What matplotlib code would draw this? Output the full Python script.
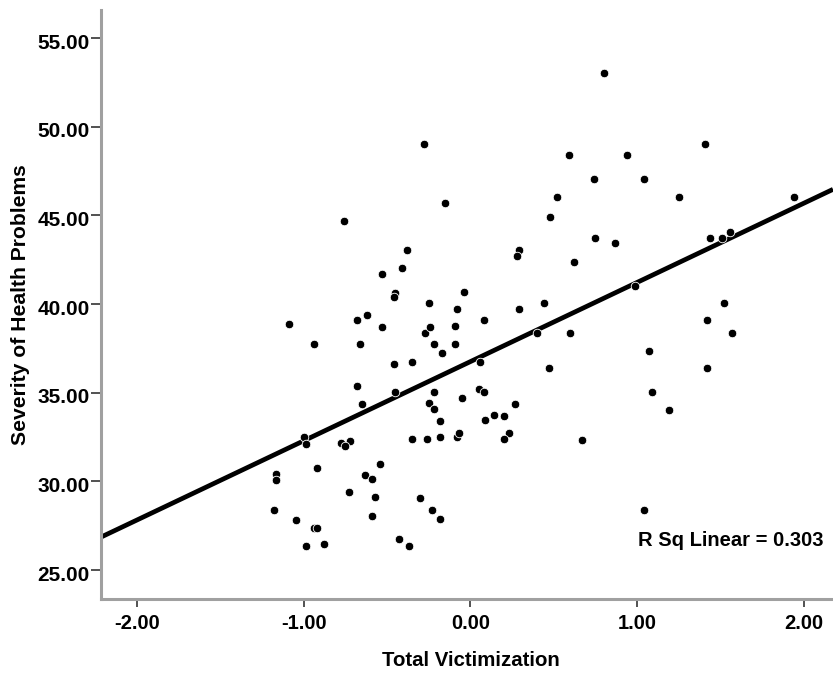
import numpy as np
import matplotlib
matplotlib.use("Agg")
import matplotlib.pyplot as plt
from matplotlib.transforms import ScaledTranslation

plt.rcParams['font.family'] = ['Liberation Sans', 'DejaVu Sans']
plt.rcParams['font.weight'] = 'bold'

# --- data ---
victimization = [
    -0.28, -0.15, -0.76, 0.48, -0.38, 0.29, 0.28, -0.41, -0.53, -0.45,
    -0.46, -0.04, -0.25, -0.08, 0.29, 0.44, -0.62, -0.68, 0.08, -1.09,
    -0.53, -0.27, -0.24, -0.09, -0.94, -0.66, -0.22, -0.09, -0.17, -0.46,
    -0.35, 0.06, 0.40, 0.47, -0.68, -0.45, -0.22, 0.05, 0.08, -0.05,
    -0.65, -0.25, -0.22, 0.27, -0.18, 0.09, 0.14, 0.20, -1.00, -0.99,
    -0.78, -0.72, -0.75, -0.35, -0.26, -0.18, -0.08, -0.07, 0.23, 0.20,
    -0.54, -0.92, -1.17, -1.17, -0.63, -0.59, -0.73, -0.57, -0.30, -1.18,
    -0.23, -1.05, -0.59, -0.18, -0.94, -0.92, -0.43, -0.37, -0.99, -0.88,
    0.80, 1.41, 0.59, 0.94, 0.74, 1.04, 0.52, 1.25, 1.94, 0.75,
    0.87, 1.44, 1.51, 1.56, 0.62, 0.99, 1.52, 1.42, 1.57, 0.60,
    1.07, 1.42, 1.09, 1.19, 0.67, 1.04,
]
health = [
    49.02, 45.71, 44.70, 44.91, 43.05, 43.06, 42.69, 42.05, 41.71, 40.60,
    40.38, 40.69, 40.06, 39.72, 39.72, 40.04, 39.41, 39.10, 39.10, 38.87,
    38.72, 38.38, 38.72, 38.78, 37.73, 37.73, 37.73, 37.73, 37.22, 36.63,
    36.71, 36.71, 38.38, 36.37, 35.38, 35.06, 35.06, 35.19, 35.06, 34.72,
    34.38, 34.40, 34.06, 34.38, 33.40, 33.44, 33.72, 33.67, 32.48, 32.09,
    32.18, 32.26, 32.01, 32.39, 32.39, 32.50, 32.48, 32.74, 32.74, 32.37,
    31.00, 30.74, 30.41, 30.06, 30.37, 30.12, 29.38, 29.13, 29.04, 28.39,
    28.39, 27.84, 28.05, 27.86, 27.37, 27.37, 26.73, 26.37, 26.37, 26.48,
    53.04, 49.04, 48.39, 48.39, 47.03, 47.03, 46.05, 46.05, 46.05, 43.71,
    43.44, 43.71, 43.71, 44.06, 42.39, 41.03, 40.04, 39.10, 38.38, 38.38,
    37.37, 36.37, 35.06, 34.04, 32.35, 28.39,
]
x_ticks = [-2, -1, 0, 1, 2]
y_ticks = [25, 30, 35, 40, 45, 50, 55]
r_sq_text = "R Sq Linear = 0.303"

x = np.array(victimization)
y = np.array(health)

fig = plt.figure(figsize=(8.33, 6.75), dpi=100)
ax = fig.add_axes([101 / 833, 1 - 599 / 675, 732 / 833, 589 / 675])

xlim = (-2.218, 2.177)
ax.set_xlim(*xlim)
ax.set_ylim(23.37, 56.58)

# linear fit line across the full x range
slope, intercept = np.polyfit(x, y, 1)
xs = np.array(xlim)
ax.plot(xs, intercept + slope * xs, color='black', linewidth=3.4, zorder=2,
        solid_capstyle='butt')

ax.scatter(x, y, s=38, color='black', edgecolors='white', linewidths=0.6,
           zorder=3)

ax.set_xticks(x_ticks)
ax.set_xticklabels([f"{v:.2f}" for v in x_ticks])
ax.set_yticks(y_ticks)
ax.set_yticklabels([f"{v:.2f}" for v in y_ticks])

for side in ['top', 'right']:
    ax.spines[side].set_visible(False)
for side in ['left', 'bottom']:
    ax.spines[side].set_color('#a0a0a0')
    ax.spines[side].set_linewidth(2.2)

ax.tick_params(axis='x', length=6, width=1.2, color='#333333', pad=4.5,
               labelsize=14.5)
ax.tick_params(axis='y', length=7, width=1.2, color='#333333', pad=1,
               labelsize=15)

# SPSS-style: y tick labels sit a little below their tick marks
offset = ScaledTranslation(0, -3 / 100, fig.dpi_scale_trans)
for lbl in ax.get_yticklabels():
    lbl.set_transform(lbl.get_transform() + offset)

ax.set_xlabel('Total Victimization', fontsize=14.7, fontweight='bold')
ax.xaxis.set_label_coords(0.5057, -0.1036)
ax.xaxis.label.set_verticalalignment('center')

ax.set_ylabel('Severity of Health Problems', fontsize=15.2, fontweight='bold')
ax.yaxis.set_label_coords(-0.110, 0.50)
ax.yaxis.label.set_verticalalignment('center')

ax.text(0.9877, 0.0985, r_sq_text, transform=ax.transAxes, ha='right',
        va='center', fontsize=14.5, fontweight='bold')

fig.savefig('out.png', dpi=100)
